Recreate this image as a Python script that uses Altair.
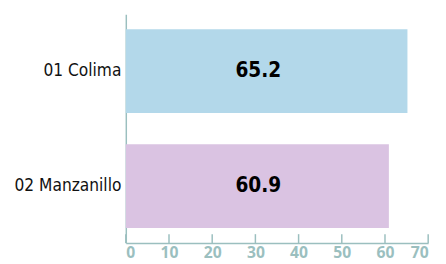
import altair as alt
import pandas as pd

categories = ["01 Colima", "02 Manzanillo"]
values = [65.2, 60.9]
colors = ["#b3d8ea", "#dac3e2"]
tick_values = [0, 10, 20, 30, 40, 50, 60, 70]

df = pd.DataFrame({"cat": categories, "val": values, "label": [f"{v:.1f}" for v in values]})
ticks_df = pd.DataFrame({"t": tick_values})

W, H = 308, 233
axis_col = "#9bbfbf"
cond = "DejaVu Sans Condensed, Liberation Sans Narrow, Arial Narrow, sans-serif"

xscale = alt.Scale(domain=[0, 70], nice=False, zero=True)
yscale = alt.Scale(domain=categories, paddingInner=0.27, paddingOuter=0.13)

bars = alt.Chart(df).mark_bar().encode(
    x=alt.X("val:Q", scale=xscale,
            axis=alt.Axis(values=tick_values, title=None, grid=False, ticks=False,
                          domainColor=axis_col, domainWidth=1.5,
                          labelColor=axis_col, labelFont="Open Sans", labelFontWeight="bold",
                          labelFontSize=16, labelPadding=2)),
    y=alt.Y("cat:N", scale=yscale, sort=categories,
            axis=alt.Axis(title=None, ticks=False, domainColor=axis_col, domainWidth=1.5,
                          labelColor="#111111", labelFont=cond,
                          labelFontSize=17.5, labelPadding=5, labelLimit=200)),
    color=alt.Color("cat:N", scale=alt.Scale(domain=categories, range=colors), legend=None),
)

text = alt.Chart(df).mark_text(fontSize=21, fontWeight="bold", font=cond,
                               color="#000000", align="center", baseline="middle").encode(
    x=alt.value(135),
    y=alt.Y("cat:N", scale=yscale, sort=categories),
    text="label:N",
)

tickmarks = alt.Chart(ticks_df).mark_rule(color=axis_col, strokeWidth=1.5).encode(
    x=alt.X("t:Q", scale=xscale),
    y=alt.value(H - 9),
    y2=alt.value(H),
)

chart = alt.layer(bars, text, tickmarks).properties(
    width=W, height=H,
    autosize=alt.AutoSizeParams(type="none"),
    padding={"left": 120, "top": 4, "right": 10, "bottom": 18},
).configure_view(stroke=None)

chart.save("out.html", embed_options={"renderer": "svg", "actions": False})
